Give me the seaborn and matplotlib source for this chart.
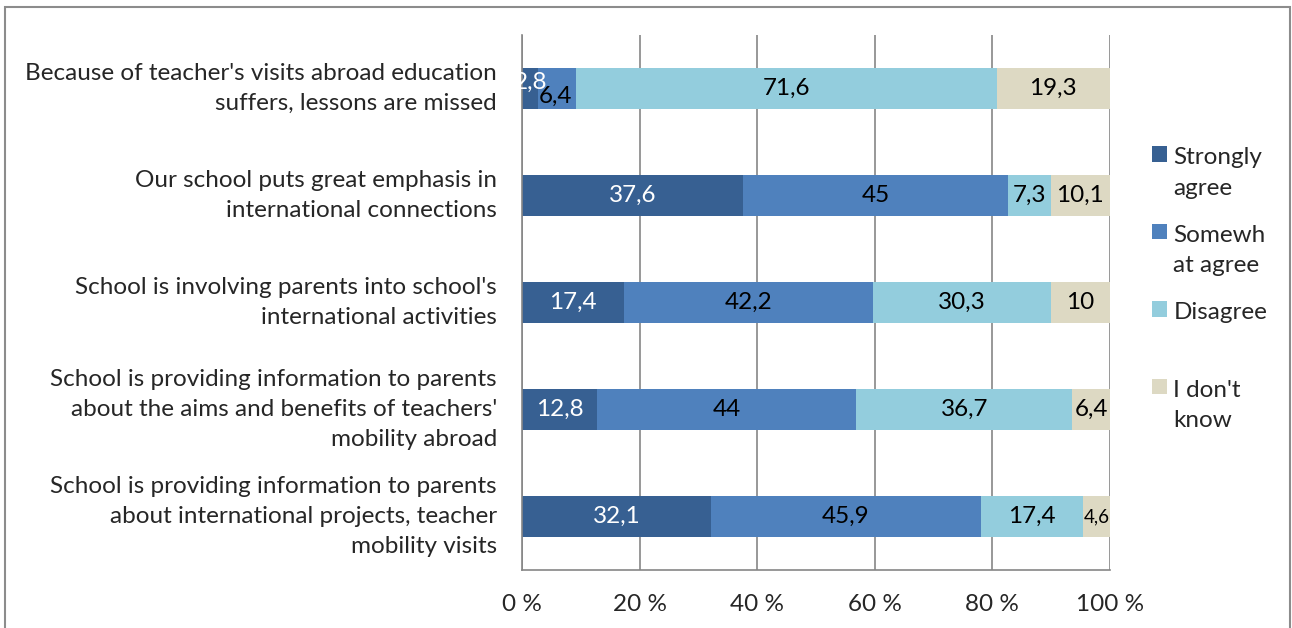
import numpy as np
import pandas as pd
import matplotlib
matplotlib.use("Agg")
import matplotlib.pyplot as plt
from matplotlib.patches import Rectangle, Patch
from matplotlib.legend_handler import HandlerPatch
import seaborn as sns

# Survey statements (top to bottom) and answer shares in percent
statements = [
    "Because of teacher's visits abroad education\nsuffers, lessons are missed",
    "Our school puts great emphasis in\ninternational connections",
    "School is involving parents into school's\ninternational activities",
    "School is providing information to parents\nabout the aims and benefits of teachers'\nmobility abroad",
    "School is providing information to parents\nabout international projects, teacher\nmobility visits",
]
strongly_agree = [2.8, 37.6, 17.4, 12.8, 32.1]
somewhat_agree = [6.4, 45.0, 42.2, 44.0, 45.9]
disagree = [71.6, 7.3, 30.3, 36.7, 17.4]
dont_know = [19.3, 10.1, 10.0, 6.4, 4.6]

series_names = ["Strongly agree", "Somewhat agree", "Disagree", "I don't know"]
legend_labels = ["Strongly\nagree", "Somewh\nat agree", "Disagree\n ", "I don't\nknow"]
colors = ["#376092", "#4F81BD", "#93CDDD", "#DDD9C3"]
label_colors = ["white", "black", "black", "black"]
x_ticks = [0, 20, 40, 60, 80, 100]
x_tick_labels = ["0 %", "20 %", "40 %", "60 %", "80 %", "100 %"]

raw = np.array([strongly_agree, somewhat_agree, disagree, dont_know]).T
shares = raw / raw.sum(axis=1, keepdims=True) * 100
lefts = np.hstack([np.zeros((len(statements), 1)), np.cumsum(shares, axis=1)[:, :-1]])

sns.set_style("white")
plt.rcParams["font.family"] = ["Lato", "DejaVu Sans"]
FS = 17.5
LS = 1.55
GRAY = "#868686"

fig = plt.figure(figsize=(12.92, 6.28), dpi=100)
ax = fig.add_axes([522 / 1292, 1 - 570 / 628, 588 / 1292, 535 / 628])

for i, name in enumerate(series_names):
    df = pd.DataFrame({"statement": statements, "share": shares[:, i]})
    sns.barplot(data=df, x="share", y="statement", order=statements, orient="h",
                color=colors[i], saturation=1, width=0.39, left=lefts[:, i],
                ax=ax, linewidth=0)

# Value labels centred in each segment (the two thin segments of the first
# row are nudged apart, the narrow last segment uses a smaller size)
offsets = {(0, 0): (0, -6), (0, 1): (-2, 8)}
small = {(4, 3)}
for r in range(len(statements)):
    for i in range(len(series_names)):
        v = raw[r, i]
        cx = lefts[r, i] + shares[r, i] / 2
        dx, dy = offsets.get((r, i), (0, 0))
        size = 13.5 if (r, i) in small else FS
        ax.annotate(f"{v:g}".replace(".", ","), (cx, r), xytext=(dx, -dy),
                    textcoords="offset pixels", ha="center", va="center",
                    fontsize=size, color=label_colors[i])

ax.set_xlim(0, 100)
ax.set_ylim(len(statements) - 0.5, -0.5)
ax.set_xticks(x_ticks)
ax.set_xticklabels(x_tick_labels, fontsize=FS)
ax.set_yticks(range(len(statements)))
ax.set_yticklabels(statements, fontsize=FS, linespacing=LS)
for t in ax.get_yticklabels():
    t.set_verticalalignment("center")
ax.set_yticks(np.arange(-0.5, len(statements)), minor=True)
ax.set_xlabel("")
ax.set_ylabel("")

ax.tick_params(axis="y", which="major", length=0, pad=18)
ax.tick_params(axis="y", which="minor", length=7, width=1.2, color=GRAY, direction="out")
ax.tick_params(axis="x", length=7, width=1.2, color=GRAY, direction="out", pad=10)

ax.set_axisbelow(True)
ax.xaxis.grid(True, color=GRAY, linewidth=1.2)
ax.yaxis.grid(False)
for side in ["top", "right"]:
    ax.spines[side].set_visible(False)
for side in ["left", "bottom"]:
    ax.spines[side].set_color(GRAY)
    ax.spines[side].set_linewidth(1.2)


def first_line_patch(legend, orig_handle, xdescent, ydescent, width, height, fontsize):
    return Rectangle((-xdescent, -ydescent + 0.78 * fontsize), width, height)


handles = [Patch(facecolor=c, edgecolor="none") for c in colors]
leg = fig.legend(handles, legend_labels, loc="upper left",
                 bbox_to_anchor=(1140 / 1292, 1 - 135 / 628), frameon=False,
                 fontsize=FS, handlelength=0.62, handleheight=0.62,
                 handletextpad=0.25, labelspacing=1.08, borderpad=0,
                 handler_map={Patch: HandlerPatch(patch_func=first_line_patch)})
for t in leg.get_texts():
    t.set_linespacing(LS)

# Outer chart frame
fig.patches.append(Rectangle((5 / 1292, -0.05), 1285 / 1292, 1.05 - 7 / 628,
                             transform=fig.transFigure, fill=False,
                             edgecolor="#8c8c8c", linewidth=1.5))

fig.savefig("out.png", dpi=100)
